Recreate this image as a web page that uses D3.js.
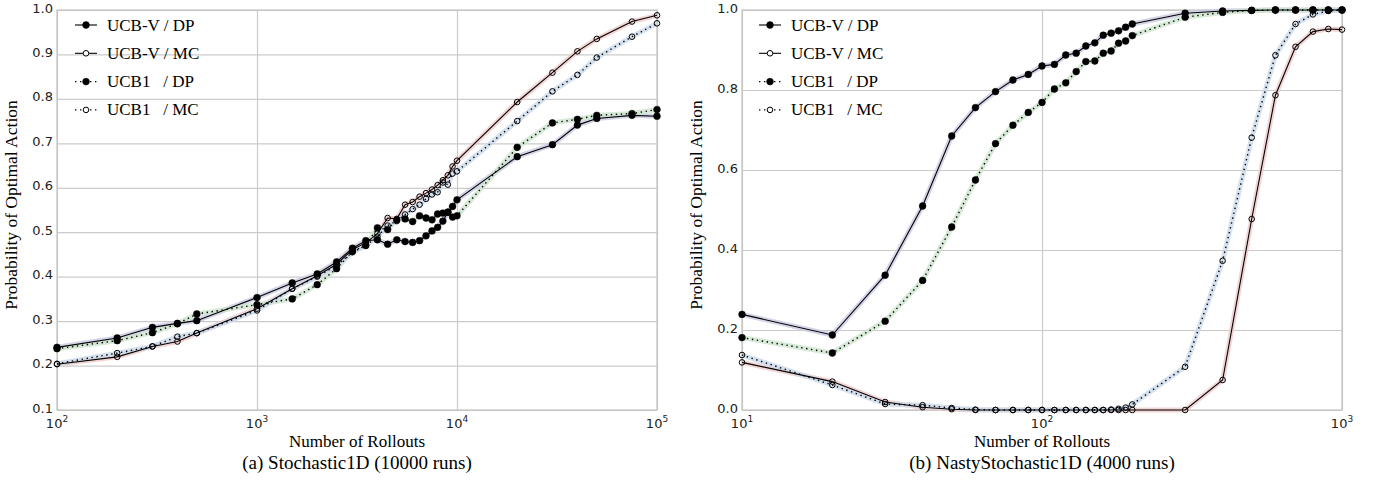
<!DOCTYPE html>
<html>
<head>
<meta charset="utf-8">
<script src="https://cdn.jsdelivr.net/npm/d3@7"></script>
<style>
  body { margin: 0; background: #fff; }
  svg text { font-family: "DejaVu Sans", sans-serif; fill: #222; }
  svg text.serif { font-family: "Liberation Serif", "Times New Roman", serif; fill: #000; }
</style>
</head>
<body>
<svg id="chart" width="1380" height="487"></svg>
<script>
// ---- data: panel (a) Stochastic1D ----
const leftRollouts = [100, 200, 300, 400, 500, 1000, 1500, 2000, 2500, 3000, 3500, 4000, 4500, 5000, 5500,
  6000, 6500, 7000, 7500, 8000, 8500, 9000, 9500, 10000, 20000, 30000, 40000, 50000, 75000, 100000];
const leftUcbvDp = [0.241, 0.262, 0.286, 0.295, 0.301, 0.353, 0.386, 0.406, 0.433, 0.464, 0.481, 0.483, 0.473, 0.483, 0.479,
  0.477, 0.481, 0.492, 0.503, 0.511, 0.525, 0.545, 0.558, 0.573, 0.670, 0.697, 0.741, 0.756, 0.763, 0.761];
const leftUcbvMc = [0.203, 0.2195, 0.243, 0.254, 0.273, 0.328, 0.373, 0.402, 0.428, 0.461, 0.476, 0.497, 0.532, 0.530, 0.562,
  0.568, 0.580, 0.588, 0.596, 0.606, 0.617, 0.628, 0.648, 0.661, 0.793, 0.859, 0.907, 0.935, 0.974, 0.988];
const leftUcb1Dp = [0.238, 0.256, 0.274, 0.294, 0.316, 0.337, 0.350, 0.382, 0.418, 0.457, 0.470, 0.510, 0.506, 0.528, 0.530,
  0.524, 0.537, 0.532, 0.528, 0.541, 0.543, 0.545, 0.534, 0.537, 0.691, 0.746, 0.754, 0.763, 0.767, 0.776];
const leftUcb1Mc = [0.204, 0.228, 0.243, 0.265, 0.273, 0.324, 0.373, 0.400, 0.425, 0.455, 0.470, 0.490, 0.515, 0.525, 0.540,
  0.552, 0.562, 0.575, 0.585, 0.590, 0.612, 0.607, 0.632, 0.637, 0.750, 0.817, 0.854, 0.893, 0.940, 0.970];
const leftXTicks = [100, 1000, 10000, 100000];
const leftYTicks = [0.1, 0.2, 0.3, 0.4, 0.5, 0.6, 0.7, 0.8, 0.9, 1.0];

// ---- data: panel (b) NastyStochastic1D ----
const rightRollouts = [10, 20, 30, 40, 50, 60, 70, 80, 90, 100, 110, 120, 130, 140, 150, 160, 170, 180, 190, 200,
  300, 400, 500, 600, 700, 800, 900, 1000];
const rightUcbvDp = [0.239, 0.1875, 0.337, 0.510, 0.685, 0.756, 0.796, 0.825, 0.839, 0.860, 0.864, 0.8875, 0.892, 0.910,
  0.918, 0.937, 0.942, 0.948, 0.957, 0.965, 0.992, 0.9975, 0.999, 1.0, 1.0, 1.0, 1.0, 1.0];
const rightUcbvMc = [0.119, 0.071, 0.020, 0.007, 0.002, 0, 0, 0, 0, 0, 0, 0, 0, 0, 0, 0, 0, 0, 0, 0,
  0, 0.075, 0.4775, 0.787, 0.908, 0.946, 0.9525, 0.951];
const rightUcb1Dp = [0.181, 0.1425, 0.222, 0.324, 0.4575, 0.575, 0.666, 0.712, 0.744, 0.769, 0.8025, 0.818, 0.846, 0.871,
  0.8725, 0.892, 0.8975, 0.917, 0.9225, 0.936, 0.982, 0.994, 0.999, 1.0, 1.0, 1.0, 1.0, 1.0];
const rightUcb1Mc = [0.1375, 0.0625, 0.015, 0.012, 0.005, 0.001, 0, 0, 0, 0, 0, 0, 0, 0, 0, 0, 0.001, 0.003, 0.006, 0.014,
  0.108, 0.373, 0.681, 0.887, 0.965, 0.989, 0.9975, 1.0];
const rightXTicks = [10, 100, 1000];
const rightYTicks = [0.0, 0.2, 0.4, 0.6, 0.8, 1.0];

const seriesNames = ["UCB-V / DP", "UCB-V / MC", "UCB1   / DP", "UCB1   / MC"];

const svg = d3.select("#chart");

// line look of each series (same order as seriesNames)
const looks = [
  { dotted: false, filled: true, band: "#c9c9e4" },
  { dotted: false, filled: false, band: "#efc9c9" },
  { dotted: true, filled: true, band: "#cde3cd" },
  { dotted: true, filled: false, band: "#cbd9ea" }
];

function drawPanel(p) {
  const g = svg.append("g");
  const x = d3.scaleLog().domain(d3.extent(p.xTicks)).range([p.left, p.left + 600]);
  const y = d3.scaleLinear().domain(d3.extent(p.yTicks)).range([410, 10]);

  // grid
  g.append("g")
    .attr("transform", "translate(0,410)")
    .call(d3.axisBottom(x).tickValues(p.xTicks).tickSize(-400).tickFormat(""))
    .call(a => a.select(".domain").remove())
    .call(a => a.selectAll("line").attr("stroke", "#cbcbcb").attr("stroke-width", 1.2));
  g.append("g")
    .attr("transform", `translate(${p.left},0)`)
    .call(d3.axisLeft(y).tickValues(p.yTicks).tickSize(-600).tickFormat(""))
    .call(a => a.select(".domain").remove())
    .call(a => a.selectAll("line").attr("stroke", "#cbcbcb").attr("stroke-width", 1.2));
  g.append("rect")
    .attr("x", p.left).attr("y", 10).attr("width", 600).attr("height", 400)
    .attr("fill", "none").attr("stroke", "#c4c4c4").attr("stroke-width", 1.2);

  const line = d3.line().x((d, i) => x(p.xs[i])).y(d => y(d));

  // confidence bands
  p.series.forEach((vals, k) => {
    g.append("path").attr("d", line(vals))
      .attr("fill", "none").attr("stroke", looks[k].band)
      .attr("stroke-width", 5).attr("stroke-linejoin", "round").attr("opacity", 0.8);
  });
  // lines
  p.series.forEach((vals, k) => {
    g.append("path").attr("d", line(vals))
      .attr("fill", "none").attr("stroke", "#000")
      .attr("stroke-width", looks[k].dotted ? 1.4 : 1.1)
      .attr("stroke-dasharray", looks[k].dotted ? "1.4,3.6" : null);
  });
  // markers
  p.series.forEach((vals, k) => {
    g.append("g").selectAll("circle").data(vals).join("circle")
      .attr("cx", (d, i) => x(p.xs[i])).attr("cy", d => y(d))
      .attr("r", looks[k].filled ? 3.4 : 2.8)
      .attr("fill", looks[k].filled ? "#000" : "none")
      .attr("stroke", "#000").attr("stroke-width", looks[k].filled ? 0.5 : 1);
  });

  // y tick labels
  g.append("g").selectAll("text").data(p.yTicks).join("text")
    .attr("x", p.left - 4).attr("y", d => y(d) - 2)
    .attr("text-anchor", "end").attr("dominant-baseline", "central")
    .attr("font-size", 13).text(d => d.toFixed(1));

  // x tick labels: 10^k
  const xt = g.append("g").selectAll("text").data(p.xTicks).join("text")
    .attr("x", d => x(d)).attr("y", 428)
    .attr("text-anchor", "middle").attr("font-size", 13);
  xt.append("tspan").text("10");
  xt.append("tspan").attr("dy", -6).attr("font-size", 9).text(d => Math.round(Math.log10(d)));

  // axis titles and caption
  g.append("text").attr("class", "serif")
    .attr("x", p.left + 300).attr("y", 447).attr("text-anchor", "middle")
    .attr("font-size", 17).text("Number of Rollouts");
  g.append("text").attr("class", "serif")
    .attr("transform", `translate(${p.left - 40},205) rotate(-90)`)
    .attr("text-anchor", "middle").attr("font-size", 17.5)
    .text("Probability of Optimal Action");
  g.append("text").attr("class", "serif")
    .attr("x", p.left + 300).attr("y", 469).attr("text-anchor", "middle")
    .attr("font-size", 19).text(p.caption);

  // legend
  const lg = g.append("g").attr("transform", `translate(${p.left + p.legendDx},0)`);
  seriesNames.forEach((name, k) => {
    const ly = 25 + k * 28.3;
    lg.append("line").attr("x1", 0).attr("x2", 22).attr("y1", ly).attr("y2", ly)
      .attr("stroke", "#000").attr("stroke-width", looks[k].dotted ? 1.4 : 1.1)
      .attr("stroke-dasharray", looks[k].dotted ? "1.4,3.6" : null);
    lg.append("circle").attr("cx", 11).attr("cy", ly)
      .attr("r", looks[k].filled ? 3.4 : 2.8)
      .attr("fill", looks[k].filled ? "#000" : "#fff")
      .attr("stroke", "#000").attr("stroke-width", looks[k].filled ? 0.5 : 1);
    lg.append("text").attr("class", "serif")
      .attr("x", 32).attr("y", ly).attr("dominant-baseline", "central")
      .attr("font-size", 17).style("white-space", "pre").text(name);
  });
}

drawPanel({
  left: 57, xs: leftRollouts, xTicks: leftXTicks, yTicks: leftYTicks, legendDx: 18,
  series: [leftUcbvDp, leftUcbvMc, leftUcb1Dp, leftUcb1Mc],
  caption: "(a) Stochastic1D (10000 runs)"
});
drawPanel({
  left: 742, xs: rightRollouts, xTicks: rightXTicks, yTicks: rightYTicks, legendDx: 17,
  series: [rightUcbvDp, rightUcbvMc, rightUcb1Dp, rightUcb1Mc],
  caption: "(b) NastyStochastic1D (4000 runs)"
});
</script>
</body>
</html>
